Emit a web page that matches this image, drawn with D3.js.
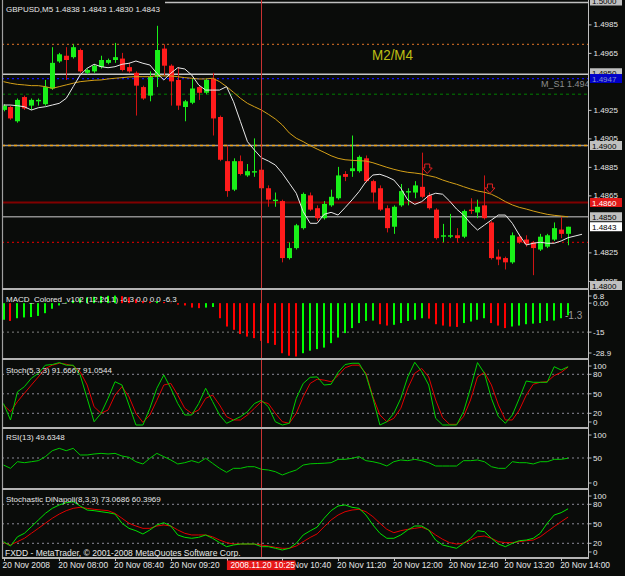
<!DOCTYPE html>
<html>
<head>
<meta charset="utf-8">
<script src="https://cdn.jsdelivr.net/npm/d3@7"></script>
<style>
  body { margin: 0; background: #0a0c0a; }
  svg { display: block; }
  text { font-family: "Liberation Sans", Arial, sans-serif; }
</style>
</head>
<body>
<div id="container"></div>
<script>
// ---- data (GBPUSD M5, 20 Nov 2008, 07:20 .. 14:05) ----
let opens = [1.4925,1.4927,1.4917,1.4934,1.4928,1.4931,1.4929,1.4940,1.4959,1.4963,1.4962,1.4967,1.4951,1.4952,1.4955,1.4958,1.4960,1.4961,1.4955,1.4951,
  1.4941,1.4935,1.4948,1.4968,1.4956,1.4946,1.4927,1.4930,1.4941,1.4937,1.4947,1.4920,1.4889,1.4869,1.4889,1.4879,1.4881,1.4883,1.4870,1.4861,
  1.4861,1.4821,1.4828,1.4842,1.4865,1.4856,1.4849,1.4858,1.4863,1.4880,1.4882,1.4882,1.4891,1.4875,1.4870,1.4856,1.4843,1.4858,1.4867,1.4867,
  1.4871,1.4865,1.4855,1.4836,1.4836,1.4837,1.4836,1.4855,1.4853,1.4858,1.4846,1.4822,1.4821,1.4818,1.4836,1.4834,1.4832,1.4827,1.4829,1.4834,
  1.4841,1.4838]
let highs = [1.4929,1.4928,1.4933,1.4935,1.4933,1.4933,1.4946,1.4969,1.4965,1.4969,1.4971,1.4968,1.4954,1.4957,1.4963,1.4961,1.4972,1.4965,1.4958,1.4952,
  1.4942,1.4952,1.4984,1.4971,1.4957,1.4955,1.4932,1.4947,1.4942,1.4947,1.4951,1.4921,1.4900,1.4891,1.4893,1.4887,1.4905,1.4884,1.4872,1.4867,
  1.4862,1.4832,1.4845,1.4867,1.4867,1.4858,1.4861,1.4869,1.4885,1.4882,1.4907,1.4893,1.4893,1.4876,1.4872,1.4858,1.4858,1.4873,1.4870,1.4875,
  1.4895,1.4867,1.4856,1.4845,1.4852,1.4842,1.4855,1.4863,1.4862,1.4879,1.4847,1.4827,1.4822,1.4839,1.4838,1.4837,1.4833,1.4838,1.4838,1.4846,
  1.4850,1.4843]
let lows = [1.4924,1.4918,1.4916,1.4925,1.4925,1.4928,1.4928,1.4939,1.4958,1.4946,1.4961,1.4951,1.4950,1.4951,1.4954,1.4957,1.4958,1.4952,1.4951,1.4921,
  1.4932,1.4931,1.4941,1.4949,1.4928,1.4925,1.4917,1.4929,1.4932,1.4936,1.4907,1.4889,1.4864,1.4868,1.4879,1.4878,1.4878,1.4869,1.4857,1.4857,
  1.4818,1.4820,1.4827,1.4841,1.4854,1.4847,1.4848,1.4857,1.4862,1.4875,1.4878,1.4881,1.4874,1.4860,1.4854,1.4839,1.4838,1.4857,1.4858,1.4863,
  1.4863,1.4855,1.4834,1.4832,1.4835,1.4832,1.4835,1.4852,1.4849,1.4848,1.4820,1.4816,1.4813,1.4817,1.4831,1.4829,1.4809,1.4826,1.4828,1.4833,
  1.4835,1.4830]
let closes = [1.4928,1.4919,1.4932,1.4926,1.4932,1.4932,1.4941,1.4958,1.4964,1.4960,1.4969,1.4952,1.4953,1.4956,1.4960,1.4960,1.4962,1.4953,1.4952,1.4942,
  1.4933,1.4948,1.4967,1.4956,1.4945,1.4928,1.4931,1.4940,1.4937,1.4946,1.4919,1.4890,1.4868,1.4889,1.4880,1.4882,1.4882,1.4870,1.4862,1.4862,
  1.4821,1.4828,1.4844,1.4866,1.4855,1.4849,1.4859,1.4864,1.4879,1.4878,1.4884,1.4892,1.4875,1.4867,1.4855,1.4842,1.4857,1.4868,1.4868,1.4872,
  1.4864,1.4856,1.4835,1.4837,1.4837,1.4835,1.4854,1.4854,1.4857,1.4849,1.4821,1.4820,1.4818,1.4837,1.4832,1.4831,1.4828,1.4836,1.4837,1.4842,
  1.4838,1.4843]

// moving averages (white one runs two bars further)
let maFast = [1.49284,1.49284,1.49279,1.49272,1.49249,1.49265,1.49272,1.49284,1.49296,1.49331,1.49413,1.49495,1.49542,1.49570,1.49553,1.49546,1.49553,1.49570,1.49577,1.49593,
  1.49577,1.49565,1.49507,1.49460,1.49507,1.49546,1.49537,1.49495,1.49425,1.49389,1.49389,1.49389,1.49413,1.49307,1.49167,1.49027,1.48968,1.48914,1.48891,1.48863,
  1.48805,1.48735,1.48665,1.48535,1.48454,1.48454,1.48517,1.48531,1.48512,1.48564,1.48618,1.48676,1.48746,1.48793,1.48798,1.48781,1.48758,1.48700,1.48618,1.48587,
  1.48606,1.48648,1.48665,1.48658,1.48610,1.48554,1.48512,1.48454,1.48407,1.48442,1.48477,1.48512,1.48512,1.48454,1.48372,1.48302,1.48314,1.48321,1.48314,1.48314,
  1.48330,1.48353,1.48365,1.48377]
let maSlow = [1.49448,1.49437,1.49429,1.49425,1.49420,1.49420,1.49413,1.49401,1.49413,1.49425,1.49437,1.49448,1.49453,1.49458,1.49460,1.49467,1.49472,1.49476,1.49481,1.49483,
  1.49483,1.49483,1.49490,1.49488,1.49488,1.49483,1.49476,1.49472,1.49467,1.49467,1.49472,1.49448,1.49413,1.49373,1.49331,1.49296,1.49272,1.49249,1.49219,1.49186,
  1.49144,1.49088,1.49051,1.49027,1.48999,1.48975,1.48952,1.48928,1.48910,1.48900,1.48896,1.48893,1.48891,1.48879,1.48863,1.48847,1.48833,1.48821,1.48812,1.48807,
  1.48800,1.48788,1.48777,1.48758,1.48742,1.48728,1.48711,1.48695,1.48681,1.48672,1.48658,1.48634,1.48606,1.48583,1.48566,1.48554,1.48540,1.48528,1.48517,1.48510,
  1.48505,1.48500]

let macd = [-8.6,-9.2,-7.8,-7.4,-7.2,-6.6,-5.2,-2.9,-1.2,0.3,1.5,2.5,3.0,3.3,3.6,3.8,3.9,3.6,3.0,2.0,
  1.2,0.8,1.0,0.6,0.2,-0.8,-1.2,-2.3,-2.6,-2.3,-2.0,-7.8,-12.1,-13.8,-16,-17.3,-18.1,-19.5,-20.7,-21.6,
  -25.9,-27.2,-27.6,-25.9,-24.6,-23.8,-23.0,-20.7,-17.8,-15.5,-12.9,-10.3,-9.2,-9.0,-10.9,-11.6,-11.2,-10.3,-9.2,-8.6,
  -7.8,-8.0,-10.9,-11.6,-12.1,-12.3,-10.3,-9.5,-8.6,-7.8,-10.3,-11.6,-12.9,-12.1,-11.6,-10.9,-10.6,-10.3,-9.2,-9.0,
  -7.8,-6.3]

let stochK = [35,9.7,53,61,74,81.5,94,95,98,94,94,79,43,7,20,43,68.6,63.5,32.8,2,
  2,27.7,58.5,79,58.5,35,17.4,17.4,35,58.5,38,17.4,4.6,9.7,14.8,22.5,35,40,30,7,
  2,4.6,43,66,75.4,76,63.5,64.6,83,95,97,97,79,43,2,7,20,43,76,98.5,
  84,63.5,12.3,2,2,2,22.5,58.5,98,81.5,43,14.8,4.6,17.4,43,69.7,67.7,67.7,67.7,91.7,
  86.6,91.7]
let stochD = [32.8,22.5,38,50.8,63.5,76,89,94,97,95.5,93,84,63.5,30,20,25,48,61,45.5,20,
  6,17.4,40,63.5,66,48,27.7,20,25,43,48,32.8,14.8,9.7,9.7,17.4,27.7,38,35,20,
  7,4.6,20,45.5,66,72.5,71,68.6,78,90,94,94,81.5,45.5,17.4,7,12.3,27.7,58.5,81.5,
  89,76,40.5,13.3,3,3,14.8,40.5,76,83,63.5,32.8,9.7,9.7,25,48,64.6,67.7,68.6,78,
  83,91.1]

let rsi = [37.9,32.2,43.6,41.9,43.6,45.4,52.3,62.6,66.7,62.6,66.7,55.2,55.2,56.9,58,56.9,58,53.4,51.2,43.6,
  39.7,49.5,58,52.3,46.6,39.7,41.9,45.4,41.9,49.5,40.8,32.2,25.3,32.2,32.2,35,35,30.5,29.3,26.4,
  20.7,25.3,29.3,37.9,40,40.5,41,41.9,47.7,47.7,49.5,52.3,45.4,43.6,40.8,36.2,43.6,46.6,45.4,47.7,
  45.4,41.9,36.2,36.2,36.2,36.2,45.4,45.4,46.6,43.6,35,32.2,32.2,43.6,41.9,41.9,39.7,43.6,43.6,47.7,
  47.7,49.6]

let dinaFast = [22.5,15.8,30,35.4,45.5,55.8,66,73.8,79,82.5,84,77.4,71.2,70.2,68.6,67.1,65,50.8,43,39.4,
  34.3,40.5,48.2,51.7,46.6,32.8,29.2,27.7,29.2,32.8,27.7,21,14.8,17.4,18.9,18.9,18.9,14.8,14.8,12.3,
  9.7,12.3,20,32.8,39.2,45,58.5,70.2,77.4,79,75.4,73.8,63.5,48.2,35.4,27.7,27.7,32.8,40.5,46.6,
  46.6,40.5,25,17.4,14.8,12.3,20,27.7,39.4,37.9,27.7,18.9,14.8,20,24,25,27.7,35.4,50.8,63.5,
  67.1,73.1]
let dinaSlow = [21,17.4,22.5,27.7,35.4,43,50.8,58.5,65,70.2,73.8,75.4,73.8,72.3,71.2,70.2,66,58.5,50.8,46.6,
  43,43,46.6,48.2,46.6,40.5,35.4,32.8,32.8,32.8,30,25,21,18.9,18.9,18.9,18.9,17.4,15.8,13.8,
  12.3,12.3,15.8,22.5,29,34.5,45.5,55.8,63.5,68.6,71.2,72.3,68.6,61,50.8,41.5,36.3,39.4,41.5,43,
  44.6,40.5,32.8,26.2,21,18.9,20,25,30,31.2,27.7,22.5,21,21,22.5,24,25,30,37.9,45.5,
  53.2,60.4]

// levels drawn on the price chart
let roundLevels = [1.5000, 1.4950, 1.4900, 1.4850]
let levelOrange = 1.4971, levelBlue = 1.4947, levelGreen = 1.4936
let levelRed = 1.4860, levelRedDot = 1.4832, lastPrice = 1.4843
let arrowBars = [60, 69], arrowPrices = [1.4887, 1.4873]

// axis ticks (the ones hidden under price boxes are left out)
let priceTicks = [1.4805, 1.4825, 1.4865, 1.4885, 1.4905, 1.4925, 1.4965, 1.4985]
let macdTicks = [6.8, 0, -15, -28.9], macdTickText = ['6.8', '0.00', '-15', '-28.9']
let stochTicks = [100, 80, 50, 20, 0], rsiTicks = [100, 50, 0]
let timeTicks = [0, 8, 16, 24, 32, 40, 48, 56, 64, 72, 80]
let timeLabels = ['20 Nov 2008', '20 Nov 08:00', '20 Nov 08:40', '20 Nov 09:20', '', '20 Nov 10:40',
  '20 Nov 11:20', '20 Nov 12:00', '20 Nov 12:40', '20 Nov 13:20', '20 Nov 14:00']
let cursorBar = 37, cursorLabel = '2008.11.20 10:25'

// ---- layout ----
let width = 625, height = 576, plotL = 2, plotR = 588
let panels = {
  main: [0, 288], macd: [290, 358], stoch: [360, 427], rsi: [429, 488], dina: [490, 557]
}

let x = d3.scaleLinear().domain([0, 81]).range([3.5, 568.1])
let yP = d3.scaleLinear().domain([1.48, 1.50]).range([288, 3])
let yM = d3.scaleLinear().domain([-28.9, 6.8]).range([359, 290])
let yS = d3.scaleLinear().domain([0, 100]).range([426.3, 361.3])
let yR = d3.scaleLinear().domain([0, 100]).range([487, 429])
let yD = d3.scaleLinear().domain([0, 100]).range([556.3, 491.3])
let xr = i => Math.round(x(i))

let svg = d3.select('#container').append('svg')
  .attr('width', width).attr('height', height)
  .style('background', '#0a0c0a')

let defs = svg.append('defs')
Object.keys(panels).forEach(k => {
  defs.append('clipPath').attr('id', 'clip-' + k).append('rect')
    .attr('x', plotL + 1).attr('y', panels[k][0])
    .attr('width', plotR - plotL - 1).attr('height', panels[k][1] - panels[k][0])
})
let layer = k => svg.append('g').attr('clip-path', 'url(#clip-' + k + ')')

// ---- main price panel ----
let gm = layer('main')

function hline (g, y, color, w, dash, x0) {
  g.append('line').attr('x1', x0 || plotL).attr('x2', plotR)
    .attr('y1', y).attr('y2', y)
    .attr('stroke', color).attr('stroke-width', w)
    .attr('stroke-dasharray', dash || null)
}
hline(gm, yP(roundLevels[0]) - 0.5, '#c0c0c0', 1.5, null, 165)
hline(gm, yP(roundLevels[1]), '#c8c8c8', 1.5)
hline(gm, yP(roundLevels[2]), '#9a9a9a', 1.5)
hline(gm, yP(roundLevels[2]), '#f0a010', 1.5, '3,3')
hline(gm, yP(roundLevels[3]), '#8c8c8c', 1.5)
hline(gm, yP(levelOrange), '#b86020', 1.3, '2,3')
hline(gm, yP(levelBlue), '#1010ff', 1.3, '2,3')
hline(gm, yP(levelGreen), '#008000', 1, '3,3')
hline(gm, yP(levelRed), '#800000', 2)
hline(gm, yP(levelRedDot), '#c00000', 1.3, '2,3')

gm.append('text').attr('x', 541).attr('y', yP(levelBlue) + 8.5)
  .attr('fill', '#8c8c8c').attr('font-size', 9).text('M_S1 1.4947')

gm.append('text').attr('x', 372).attr('y', 60)
  .attr('fill', '#bebe14').attr('font-size', 15)
  .attr('textLength', 41).attr('lengthAdjust', 'spacingAndGlyphs').text('M2/M4')

// candles
let bars = d3.range(opens.length)
let up = '#19f019', down = '#ff1c1c'
gm.selectAll('.wick').data(bars).enter().append('line')
  .attr('x1', i => xr(i) + 0.5).attr('x2', i => xr(i) + 0.5)
  .attr('y1', i => yP(highs[i])).attr('y2', i => yP(lows[i]))
  .attr('stroke', i => closes[i] >= opens[i] ? up : '#d01414').attr('stroke-width', 1)
gm.selectAll('.body').data(bars).enter().append('rect')
  .attr('x', i => xr(i) - 2).attr('width', 5)
  .attr('y', i => yP(Math.max(opens[i], closes[i])))
  .attr('height', i => Math.max(1.2, yP(Math.min(opens[i], closes[i])) - yP(Math.max(opens[i], closes[i]))))
  .attr('fill', i => closes[i] >= opens[i] ? up : down)

let line = (ys, arr) => d3.line().x((d, i) => x(i)).y(d => ys(d))(arr)
gm.append('path').attr('d', line(yP, maSlow)).attr('fill', 'none')
  .attr('stroke', '#d4a017').attr('stroke-width', 1)
gm.append('path').attr('d', line(yP, maFast)).attr('fill', 'none')
  .attr('stroke', '#e8e8e8').attr('stroke-width', 1)

// fractal arrows
arrowBars.forEach((b, k) => {
  let cx = x(b) + 5.5, ty = yP(arrowPrices[k])
  gm.append('path')
    .attr('d', `M${cx - 2.5},${ty}h5v4h2.5l-5,5.5l-5,-5.5h2.5z`)
    .attr('fill', 'none').attr('stroke', '#e02020').attr('stroke-width', 1)
})

gm.append('text').attr('x', 6).attr('y', 11.5).attr('fill', '#e8e8e8').attr('font-size', 8)
  .text('GBPUSD,M5  1.4838 1.4843 1.4830 1.4843')

// ---- MACD panel ----
let gmacd = layer('macd')
hline(gmacd, yM(-15), '#808080', 1, '2,3')
gmacd.selectAll('rect').data(macd).enter().append('rect')
  .attr('x', (d, i) => xr(i) - 1).attr('width', 2)
  .attr('y', d => Math.min(yM(0), yM(d)))
  .attr('height', d => Math.abs(yM(d) - yM(0)))
  .attr('fill', (d, i) => (i === 0 || d >= macd[i - 1]) ? '#00ff00' : '#ff0000')
gmacd.append('text').attr('x', 6).attr('y', 301.7).attr('fill', '#e8e8e8').attr('font-size', 8)
  .text('MACD_Colored_v102 (12,26,1) -6.3 0.0 0.0 -6.3')
gmacd.append('text').attr('x', 565).attr('y', 318.5).attr('fill', '#9a9a9a').attr('font-size', 10)
  .text('-1.3')

// ---- Stoch panel ----
let gs = layer('stoch')
;[80, 50, 20].forEach(v => hline(gs, yS(v), '#8a8a96', 1, '2,3'))
gs.append('path').attr('d', line(yS, stochD)).attr('fill', 'none').attr('stroke', '#e00000').attr('stroke-width', 1)
gs.append('path').attr('d', line(yS, stochK)).attr('fill', 'none').attr('stroke', '#00d000').attr('stroke-width', 1)
gs.append('text').attr('x', 6).attr('y', 373).attr('fill', '#e8e8e8').attr('font-size', 8)
  .text('Stoch(5,3,3) 91.6667 91.0544')

// ---- RSI panel ----
let gr = layer('rsi')
hline(gr, yR(50), '#8a8a96', 1, '2,3')
gr.append('path').attr('d', line(yR, rsi)).attr('fill', 'none').attr('stroke', '#00c800').attr('stroke-width', 1)
gr.append('text').attr('x', 6).attr('y', 440).attr('fill', '#e8e8e8').attr('font-size', 8)
  .text('RSI(13) 49.6348')

// ---- DiNapoli panel ----
let gd = layer('dina')
;[80, 50, 20].forEach(v => hline(gd, yD(v), '#8a8a96', 1, '2,3'))
gd.append('path').attr('d', line(yD, dinaSlow)).attr('fill', 'none').attr('stroke', '#e00000').attr('stroke-width', 1)
gd.append('path').attr('d', line(yD, dinaFast)).attr('fill', 'none').attr('stroke', '#00e000').attr('stroke-width', 1)
gd.append('text').attr('x', 6).attr('y', 501.7).attr('fill', '#e8e8e8').attr('font-size', 8)
  .text('Stochastic DiNapoli(8,3,3) 73.0686 60.3969')
gd.append('text').attr('x', 5).attr('y', 555.5).attr('fill', '#e8e8e8').attr('font-size', 8.5)
  .text('FXDD - MetaTrader, \u00a9 2001-2008 MetaQuotes Software Corp.')

// cursor line through all panels
svg.append('line').attr('x1', xr(cursorBar) + 0.5).attr('x2', xr(cursorBar) + 0.5)
  .attr('y1', 0).attr('y2', panels.dina[1])
  .attr('stroke', '#c83232').attr('stroke-width', 1)

// ---- frames ----
let frame = svg.append('g')
frame.append('line').attr('x1', plotL + 0.5).attr('x2', plotL + 0.5).attr('y1', 0).attr('y2', 558)
  .attr('stroke', '#a0a0a0').attr('stroke-width', 1.2)
frame.append('line').attr('x1', plotR + 0.5).attr('x2', plotR + 0.5).attr('y1', 0).attr('y2', 558)
  .attr('stroke', '#c0c0c0').attr('stroke-width', 1)
;['main', 'macd', 'stoch', 'rsi', 'dina'].forEach(k => {
  let yb = panels[k][1]
  frame.append('rect').attr('x', plotL).attr('y', yb).attr('width', plotR - plotL + 1).attr('height', 2)
    .attr('fill', '#b4b4b4')
})

// ---- right axes ----
let axisText = '#e6e6e6'
let pAxis = svg.append('g').attr('transform', `translate(${plotR + 0.5},0)`)
  .call(d3.axisRight(yP).tickValues(priceTicks).tickFormat(d3.format('.4f')).tickSize(3).tickPadding(2))
pAxis.select('.domain').remove()
pAxis.selectAll('line').attr('stroke', '#c0c0c0')
pAxis.selectAll('text').attr('fill', axisText).attr('font-size', 8)
  .attr('font-family', '"Liberation Sans", Arial, sans-serif')

function priceBox (p, fill, color, dy) {
  let y = yP(p) + (dy || 0)
  let g = svg.append('g')
  g.append('rect').attr('x', 590).attr('y', y - 4.5).attr('width', 32).attr('height', 9).attr('fill', fill)
  g.append('text').attr('x', 592).attr('y', y + 3).attr('fill', color).attr('font-size', 8)
    .text(d3.format('.4f')(p))
}
priceBox(roundLevels[0], '#c0c0c0', '#000', -2)
priceBox(roundLevels[1], '#c0c0c0', '#000', -1.5)
priceBox(levelBlue, '#0000c8', '#8494c8', 0)
priceBox(roundLevels[2], '#c0c0c0', '#000')
priceBox(levelRed, '#e01818', '#fff')
priceBox(roundLevels[3], '#c0c0c0', '#000')
priceBox(lastPrice, '#ffffff', '#000')
priceBox(1.4800, '#c0c0c0', '#000', -2.5)

function subAxis (scale, ticks, labels, top, bottom) {
  let g = svg.append('g')
  ticks.forEach((v, k) => {
    let y = Math.max(top + 6, Math.min(bottom - 5, scale(v)))
    g.append('line').attr('x1', plotR + 0.5).attr('x2', plotR + 3.5).attr('y1', y).attr('y2', y).attr('stroke', '#c0c0c0')
    g.append('text').attr('x', 593).attr('y', y + 3).attr('fill', axisText).attr('font-size', 8)
      .text(labels ? labels[k] : v)
  })
}
subAxis(yM, macdTicks, macdTickText, panels.macd[0], panels.macd[1])
subAxis(yS, stochTicks, null, panels.stoch[0], panels.stoch[1])
subAxis(yR, rsiTicks, null, panels.rsi[0], panels.rsi[1])
subAxis(yD, stochTicks, null, panels.dina[0], panels.dina[1])

// ---- time axis ----
let tAxis = svg.append('g')
timeTicks.forEach((b, k) => {
  tAxis.append('line').attr('x1', xr(b) + 0.5).attr('x2', xr(b) + 0.5)
    .attr('y1', 558).attr('y2', 561).attr('stroke', '#c0c0c0')
  tAxis.append('text').attr('x', x(b) - 1).attr('y', 568.3).attr('fill', axisText).attr('font-size', 8.4)
    .text(timeLabels[k])
})
tAxis.append('rect').attr('x', x(cursorBar) - 34.5).attr('y', 560.5).attr('width', 68.5).attr('height', 9.5)
  .attr('fill', '#e81818')
tAxis.append('text').attr('x', x(cursorBar) - 31).attr('y', 568.3).attr('fill', '#fff').attr('font-size', 8.4)
  .text(cursorLabel)
</script>
</body>
</html>
